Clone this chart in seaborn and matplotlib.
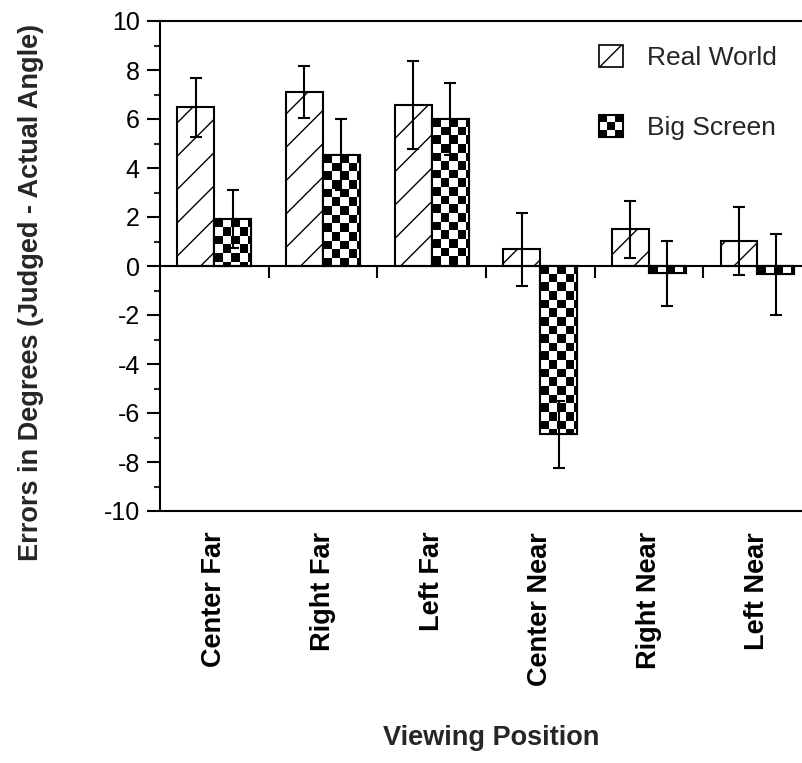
import numpy as np
import pandas as pd
import matplotlib
matplotlib.use("Agg")
import matplotlib.pyplot as plt
import seaborn as sns
from matplotlib.patches import Rectangle, Patch
from matplotlib.legend_handler import HandlerBase

# ---- data ----
positions = ["Center Far", "Right Far", "Left Far", "Center Near", "Right Near", "Left Near"]
conditions = ["Real World", "Big Screen"]
real_world = [6.48, 7.10, 6.56, 0.68, 1.50, 1.03]
real_world_err = [1.20, 1.05, 1.80, 1.50, 1.17, 1.38]
big_screen = [1.92, 4.54, 6.01, -6.86, -0.30, -0.33]
big_screen_err = [1.18, 1.45, 1.47, 1.37, 1.33, 1.65]
y_ticks = [-10, -8, -6, -4, -2, 0, 2, 4, 6, 8, 10]

df = pd.DataFrame({
    "position": positions * 2,
    "condition": [conditions[0]] * 6 + [conditions[1]] * 6,
    "error": real_world + big_screen,
    "err": real_world_err + big_screen_err,
})

sns.set_style("ticks")
plt.rcParams["font.family"] = ["Liberation Sans", "DejaVu Sans"]
plt.rcParams["axes.unicode_minus"] = False
plt.rcParams["hatch.linewidth"] = 1.0
plt.rcParams["hatch.color"] = "black"

DPI = 100
fig = plt.figure(figsize=(8.02, 7.63), dpi=DPI)
ax = fig.add_axes([160 / 802, 252 / 763, 642 / 802, 490 / 763])

sns.barplot(data=df, x="position", y="error", hue="condition",
            order=positions, hue_order=conditions, width=0.68,
            palette=["white", "white"], saturation=1, edgecolor="black",
            linewidth=1.5, errorbar=None, legend=False, ax=ax, zorder=2)

ax.set_xlim(-0.5, 5.41)
ax.set_ylim(-10, 10)

# hatching for Real World
rw_bars = ax.containers[0]
bs_bars = ax.containers[1]
for p in rw_bars:
    p.set_hatch("/")

# checkerboard for Big Screen, clipped to each bar
fig.canvas.draw()
bbox = ax.get_window_extent()
x0l, x1l = ax.get_xlim()
y0l, y1l = ax.get_ylim()
ppx = bbox.width / (x1l - x0l)
ppy = bbox.height / (y1l - y0l)
cell = 8.6
for p in bs_bars:
    bx, by = p.get_x(), p.get_y()
    bw, bh = p.get_width(), p.get_height()
    ylo, yhi = min(by, by + bh), max(by, by + bh)
    nx = int(np.ceil(bw * ppx / cell)) + 1
    ny = int(np.ceil((yhi - ylo) * ppy / cell)) + 1
    arr = (np.add.outer(np.arange(ny), np.arange(nx)) % 2).astype(float)
    ext = [bx, bx + nx * cell / ppx, yhi - ny * cell / ppy, yhi]
    im = ax.imshow(arr, cmap="gray", vmin=0, vmax=1, extent=ext,
                   interpolation="nearest", origin="upper", aspect="auto",
                   zorder=2.5)
    im.set_clip_path(p)
    ax.add_patch(Rectangle((bx, by), bw, bh, fill=False, edgecolor="black",
                           linewidth=1.5, zorder=3))

ax.set_xlim(-0.5, 5.41)
ax.set_ylim(-10, 10)

# error bars at bar centres
for bars, errs in ((rw_bars, real_world_err), (bs_bars, big_screen_err)):
    xs = [p.get_x() + p.get_width() / 2 for p in bars]
    ys = [p.get_y() + p.get_height() for p in bars]
    ax.errorbar(xs, ys, yerr=errs, fmt="none", ecolor="black",
                elinewidth=1.5, capsize=4, capthick=1.5, zorder=5)

# zero line with group separator ticks
ax.axhline(0, color="black", linewidth=1.5, zorder=4)
ax.vlines(np.arange(len(positions) - 1) + 0.5, -0.5, 0, color="black",
          linewidth=1.5, zorder=4)

# axes styling
for s in ["left", "top", "bottom"]:
    ax.spines[s].set_linewidth(1.5)
    ax.spines[s].set_color("black")
ax.spines["right"].set_visible(False)

ax.set_yticks(y_ticks)
ax.set_yticks(np.arange(-9, 10, 2), minor=True)
ax.tick_params(axis="y", which="major", length=9.5, width=1.5, direction="out",
               labelsize=18, pad=5, colors="black")
ax.tick_params(axis="y", which="minor", length=4.5, width=1.5, direction="out")
ax.tick_params(axis="x", length=0, pad=15, labelsize=19.5, colors="black")
plt.setp(ax.get_xticklabels(), rotation=90, fontweight="bold")

ax.set_xlabel("Viewing Position", fontsize=19.5, fontweight="bold")
ax.set_ylabel("Errors in Degrees (Judged - Actual Angle)", fontsize=19.5,
              fontweight="bold")
ax.xaxis.set_label_coords(0.5156, -0.436)
ax.yaxis.set_label_coords(-0.18, 0.447)


class CheckerHandler(HandlerBase):
    def create_artists(self, legend, orig_handle, xdescent, ydescent, width,
                       height, fontsize, trans):
        arts = []
        n = 3
        cw, ch = width / n, height / n
        for i in range(n):
            for j in range(n):
                if (i + j) % 2 == 0:
                    arts.append(Rectangle((-xdescent + i * cw, -ydescent + j * ch),
                                          cw, ch, facecolor="black",
                                          edgecolor="none", transform=trans))
        arts.append(Rectangle((-xdescent, -ydescent), width, height,
                              facecolor="none", edgecolor="black", linewidth=1.5,
                              transform=trans))
        return arts


class CheckerKey:
    pass


rw_handle = Patch(facecolor="white", edgecolor="black", hatch="/", linewidth=1.2)
bs_handle = CheckerKey()
ax.legend([rw_handle, bs_handle], conditions,
          handler_map={CheckerKey: CheckerHandler()},
          loc="upper left", bbox_to_anchor=(0.684, 0.951), frameon=False,
          fontsize=19, handlelength=0.9, handleheight=0.9,
          handletextpad=0.9, labelspacing=1.7, borderpad=0, borderaxespad=0)

fig.savefig("out.png", dpi=DPI)
